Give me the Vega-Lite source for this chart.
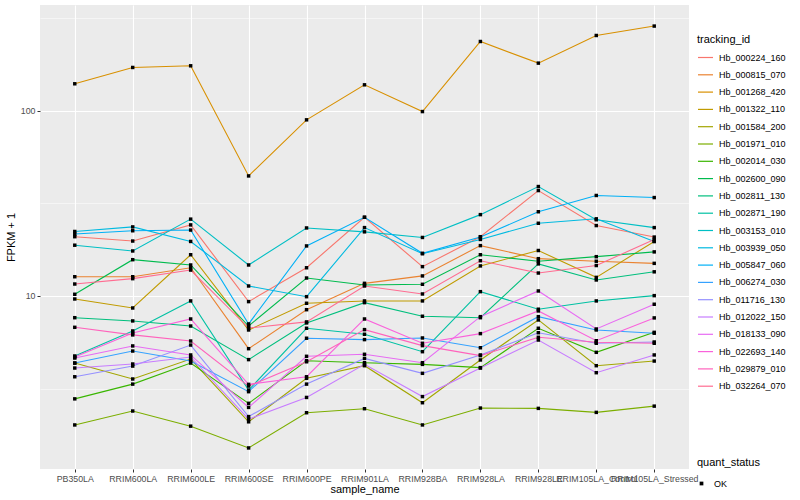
{
 "$schema": "https://vega.github.io/schema/vega-lite/v6.json",
 "width": 649,
 "height": 464,
 "autosize": {"type": "none"},
 "padding": {"left": 40, "top": 5, "right": 111, "bottom": 31},
 "background": "white",
 "config": {
  "view": {"fill": "#EBEBEB", "stroke": null},
  "font": "Liberation Sans",
  "legend": {"padding": 0, "titleFontWeight": "normal", "titleColor": "black", "labelColor": "black", "titleFontSize": 11, "labelFontSize": 9}
 },
 "data": {"values": [
  {"tracking_id":"Hb_000224_160","sample_name":"PB350LA","fpkm":20.9,"quant_status":"OK"},
  {"tracking_id":"Hb_000224_160","sample_name":"RRIM600LA","fpkm":19.8,"quant_status":"OK"},
  {"tracking_id":"Hb_000224_160","sample_name":"RRIM600LE","fpkm":24.2,"quant_status":"OK"},
  {"tracking_id":"Hb_000224_160","sample_name":"RRIM600SE","fpkm":9.32,"quant_status":"OK"},
  {"tracking_id":"Hb_000224_160","sample_name":"RRIM600PE","fpkm":14.2,"quant_status":"OK"},
  {"tracking_id":"Hb_000224_160","sample_name":"RRIM901LA","fpkm":26.6,"quant_status":"OK"},
  {"tracking_id":"Hb_000224_160","sample_name":"RRIM928BA","fpkm":14.4,"quant_status":"OK"},
  {"tracking_id":"Hb_000224_160","sample_name":"RRIM928LA","fpkm":20.9,"quant_status":"OK"},
  {"tracking_id":"Hb_000224_160","sample_name":"RRIM928LE","fpkm":37.1,"quant_status":"OK"},
  {"tracking_id":"Hb_000224_160","sample_name":"RRIM105LA_Control","fpkm":24.0,"quant_status":"OK"},
  {"tracking_id":"Hb_000224_160","sample_name":"RRIM105LA_Stressed","fpkm":20.8,"quant_status":"OK"},
  {"tracking_id":"Hb_000815_070","sample_name":"PB350LA","fpkm":12.7,"quant_status":"OK"},
  {"tracking_id":"Hb_000815_070","sample_name":"RRIM600LA","fpkm":12.7,"quant_status":"OK"},
  {"tracking_id":"Hb_000815_070","sample_name":"RRIM600LE","fpkm":14.2,"quant_status":"OK"},
  {"tracking_id":"Hb_000815_070","sample_name":"RRIM600SE","fpkm":5.19,"quant_status":"OK"},
  {"tracking_id":"Hb_000815_070","sample_name":"RRIM600PE","fpkm":8.43,"quant_status":"OK"},
  {"tracking_id":"Hb_000815_070","sample_name":"RRIM901LA","fpkm":11.7,"quant_status":"OK"},
  {"tracking_id":"Hb_000815_070","sample_name":"RRIM928BA","fpkm":12.83,"quant_status":"OK"},
  {"tracking_id":"Hb_000815_070","sample_name":"RRIM928LA","fpkm":18.7,"quant_status":"OK"},
  {"tracking_id":"Hb_000815_070","sample_name":"RRIM928LE","fpkm":15.9,"quant_status":"OK"},
  {"tracking_id":"Hb_000815_070","sample_name":"RRIM105LA_Control","fpkm":15.4,"quant_status":"OK"},
  {"tracking_id":"Hb_000815_070","sample_name":"RRIM105LA_Stressed","fpkm":15.0,"quant_status":"OK"},
  {"tracking_id":"Hb_001268_420","sample_name":"PB350LA","fpkm":140,"quant_status":"OK"},
  {"tracking_id":"Hb_001268_420","sample_name":"RRIM600LA","fpkm":171.5,"quant_status":"OK"},
  {"tracking_id":"Hb_001268_420","sample_name":"RRIM600LE","fpkm":175.1,"quant_status":"OK"},
  {"tracking_id":"Hb_001268_420","sample_name":"RRIM600SE","fpkm":44.5,"quant_status":"OK"},
  {"tracking_id":"Hb_001268_420","sample_name":"RRIM600PE","fpkm":89.4,"quant_status":"OK"},
  {"tracking_id":"Hb_001268_420","sample_name":"RRIM901LA","fpkm":138.2,"quant_status":"OK"},
  {"tracking_id":"Hb_001268_420","sample_name":"RRIM928BA","fpkm":99.1,"quant_status":"OK"},
  {"tracking_id":"Hb_001268_420","sample_name":"RRIM928LA","fpkm":236.9,"quant_status":"OK"},
  {"tracking_id":"Hb_001268_420","sample_name":"RRIM928LE","fpkm":181.0,"quant_status":"OK"},
  {"tracking_id":"Hb_001268_420","sample_name":"RRIM105LA_Control","fpkm":255.3,"quant_status":"OK"},
  {"tracking_id":"Hb_001268_420","sample_name":"RRIM105LA_Stressed","fpkm":287.0,"quant_status":"OK"},
  {"tracking_id":"Hb_001322_110","sample_name":"PB350LA","fpkm":9.63,"quant_status":"OK"},
  {"tracking_id":"Hb_001322_110","sample_name":"RRIM600LA","fpkm":8.61,"quant_status":"OK"},
  {"tracking_id":"Hb_001322_110","sample_name":"RRIM600LE","fpkm":16.7,"quant_status":"OK"},
  {"tracking_id":"Hb_001322_110","sample_name":"RRIM600SE","fpkm":6.55,"quant_status":"OK"},
  {"tracking_id":"Hb_001322_110","sample_name":"RRIM600PE","fpkm":9.13,"quant_status":"OK"},
  {"tracking_id":"Hb_001322_110","sample_name":"RRIM901LA","fpkm":9.40,"quant_status":"OK"},
  {"tracking_id":"Hb_001322_110","sample_name":"RRIM928BA","fpkm":9.40,"quant_status":"OK"},
  {"tracking_id":"Hb_001322_110","sample_name":"RRIM928LA","fpkm":14.53,"quant_status":"OK"},
  {"tracking_id":"Hb_001322_110","sample_name":"RRIM928LE","fpkm":17.6,"quant_status":"OK"},
  {"tracking_id":"Hb_001322_110","sample_name":"RRIM105LA_Control","fpkm":12.6,"quant_status":"OK"},
  {"tracking_id":"Hb_001322_110","sample_name":"RRIM105LA_Stressed","fpkm":19.7,"quant_status":"OK"},
  {"tracking_id":"Hb_001584_200","sample_name":"PB350LA","fpkm":4.34,"quant_status":"OK"},
  {"tracking_id":"Hb_001584_200","sample_name":"RRIM600LA","fpkm":3.56,"quant_status":"OK"},
  {"tracking_id":"Hb_001584_200","sample_name":"RRIM600LE","fpkm":4.56,"quant_status":"OK"},
  {"tracking_id":"Hb_001584_200","sample_name":"RRIM600SE","fpkm":2.09,"quant_status":"OK"},
  {"tracking_id":"Hb_001584_200","sample_name":"RRIM600PE","fpkm":3.59,"quant_status":"OK"},
  {"tracking_id":"Hb_001584_200","sample_name":"RRIM901LA","fpkm":4.20,"quant_status":"OK"},
  {"tracking_id":"Hb_001584_200","sample_name":"RRIM928BA","fpkm":2.65,"quant_status":"OK"},
  {"tracking_id":"Hb_001584_200","sample_name":"RRIM928LA","fpkm":4.51,"quant_status":"OK"},
  {"tracking_id":"Hb_001584_200","sample_name":"RRIM928LE","fpkm":7.42,"quant_status":"OK"},
  {"tracking_id":"Hb_001584_200","sample_name":"RRIM105LA_Control","fpkm":4.20,"quant_status":"OK"},
  {"tracking_id":"Hb_001584_200","sample_name":"RRIM105LA_Stressed","fpkm":4.45,"quant_status":"OK"},
  {"tracking_id":"Hb_001971_010","sample_name":"PB350LA","fpkm":2.01,"quant_status":"OK"},
  {"tracking_id":"Hb_001971_010","sample_name":"RRIM600LA","fpkm":2.39,"quant_status":"OK"},
  {"tracking_id":"Hb_001971_010","sample_name":"RRIM600LE","fpkm":1.98,"quant_status":"OK"},
  {"tracking_id":"Hb_001971_010","sample_name":"RRIM600SE","fpkm":1.51,"quant_status":"OK"},
  {"tracking_id":"Hb_001971_010","sample_name":"RRIM600PE","fpkm":2.34,"quant_status":"OK"},
  {"tracking_id":"Hb_001971_010","sample_name":"RRIM901LA","fpkm":2.46,"quant_status":"OK"},
  {"tracking_id":"Hb_001971_010","sample_name":"RRIM928BA","fpkm":2.01,"quant_status":"OK"},
  {"tracking_id":"Hb_001971_010","sample_name":"RRIM928LA","fpkm":2.48,"quant_status":"OK"},
  {"tracking_id":"Hb_001971_010","sample_name":"RRIM928LE","fpkm":2.47,"quant_status":"OK"},
  {"tracking_id":"Hb_001971_010","sample_name":"RRIM105LA_Control","fpkm":2.35,"quant_status":"OK"},
  {"tracking_id":"Hb_001971_010","sample_name":"RRIM105LA_Stressed","fpkm":2.54,"quant_status":"OK"},
  {"tracking_id":"Hb_002014_030","sample_name":"PB350LA","fpkm":2.78,"quant_status":"OK"},
  {"tracking_id":"Hb_002014_030","sample_name":"RRIM600LA","fpkm":3.34,"quant_status":"OK"},
  {"tracking_id":"Hb_002014_030","sample_name":"RRIM600LE","fpkm":4.34,"quant_status":"OK"},
  {"tracking_id":"Hb_002014_030","sample_name":"RRIM600SE","fpkm":2.63,"quant_status":"OK"},
  {"tracking_id":"Hb_002014_030","sample_name":"RRIM600PE","fpkm":4.47,"quant_status":"OK"},
  {"tracking_id":"Hb_002014_030","sample_name":"RRIM901LA","fpkm":4.36,"quant_status":"OK"},
  {"tracking_id":"Hb_002014_030","sample_name":"RRIM928BA","fpkm":4.27,"quant_status":"OK"},
  {"tracking_id":"Hb_002014_030","sample_name":"RRIM928LA","fpkm":4.10,"quant_status":"OK"},
  {"tracking_id":"Hb_002014_030","sample_name":"RRIM928LE","fpkm":6.69,"quant_status":"OK"},
  {"tracking_id":"Hb_002014_030","sample_name":"RRIM105LA_Control","fpkm":4.96,"quant_status":"OK"},
  {"tracking_id":"Hb_002014_030","sample_name":"RRIM105LA_Stressed","fpkm":6.36,"quant_status":"OK"},
  {"tracking_id":"Hb_002600_090","sample_name":"PB350LA","fpkm":10.21,"quant_status":"OK"},
  {"tracking_id":"Hb_002600_090","sample_name":"RRIM600LA","fpkm":15.7,"quant_status":"OK"},
  {"tracking_id":"Hb_002600_090","sample_name":"RRIM600LE","fpkm":14.7,"quant_status":"OK"},
  {"tracking_id":"Hb_002600_090","sample_name":"RRIM600SE","fpkm":6.88,"quant_status":"OK"},
  {"tracking_id":"Hb_002600_090","sample_name":"RRIM600PE","fpkm":12.5,"quant_status":"OK"},
  {"tracking_id":"Hb_002600_090","sample_name":"RRIM901LA","fpkm":11.46,"quant_status":"OK"},
  {"tracking_id":"Hb_002600_090","sample_name":"RRIM928BA","fpkm":11.56,"quant_status":"OK"},
  {"tracking_id":"Hb_002600_090","sample_name":"RRIM928LA","fpkm":16.7,"quant_status":"OK"},
  {"tracking_id":"Hb_002600_090","sample_name":"RRIM928LE","fpkm":15.4,"quant_status":"OK"},
  {"tracking_id":"Hb_002600_090","sample_name":"RRIM105LA_Control","fpkm":16.3,"quant_status":"OK"},
  {"tracking_id":"Hb_002600_090","sample_name":"RRIM105LA_Stressed","fpkm":17.3,"quant_status":"OK"},
  {"tracking_id":"Hb_002811_130","sample_name":"PB350LA","fpkm":7.63,"quant_status":"OK"},
  {"tracking_id":"Hb_002811_130","sample_name":"RRIM600LA","fpkm":7.33,"quant_status":"OK"},
  {"tracking_id":"Hb_002811_130","sample_name":"RRIM600LE","fpkm":6.88,"quant_status":"OK"},
  {"tracking_id":"Hb_002811_130","sample_name":"RRIM600SE","fpkm":4.53,"quant_status":"OK"},
  {"tracking_id":"Hb_002811_130","sample_name":"RRIM600PE","fpkm":7.15,"quant_status":"OK"},
  {"tracking_id":"Hb_002811_130","sample_name":"RRIM901LA","fpkm":9.20,"quant_status":"OK"},
  {"tracking_id":"Hb_002811_130","sample_name":"RRIM928BA","fpkm":7.77,"quant_status":"OK"},
  {"tracking_id":"Hb_002811_130","sample_name":"RRIM928LA","fpkm":7.63,"quant_status":"OK"},
  {"tracking_id":"Hb_002811_130","sample_name":"RRIM928LE","fpkm":14.9,"quant_status":"OK"},
  {"tracking_id":"Hb_002811_130","sample_name":"RRIM105LA_Control","fpkm":12.2,"quant_status":"OK"},
  {"tracking_id":"Hb_002811_130","sample_name":"RRIM105LA_Stressed","fpkm":13.5,"quant_status":"OK"},
  {"tracking_id":"Hb_002871_190","sample_name":"PB350LA","fpkm":4.74,"quant_status":"OK"},
  {"tracking_id":"Hb_002871_190","sample_name":"RRIM600LA","fpkm":6.47,"quant_status":"OK"},
  {"tracking_id":"Hb_002871_190","sample_name":"RRIM600LE","fpkm":9.40,"quant_status":"OK"},
  {"tracking_id":"Hb_002871_190","sample_name":"RRIM600SE","fpkm":3.10,"quant_status":"OK"},
  {"tracking_id":"Hb_002871_190","sample_name":"RRIM600PE","fpkm":6.69,"quant_status":"OK"},
  {"tracking_id":"Hb_002871_190","sample_name":"RRIM901LA","fpkm":6.21,"quant_status":"OK"},
  {"tracking_id":"Hb_002871_190","sample_name":"RRIM928BA","fpkm":5.00,"quant_status":"OK"},
  {"tracking_id":"Hb_002871_190","sample_name":"RRIM928LA","fpkm":10.55,"quant_status":"OK"},
  {"tracking_id":"Hb_002871_190","sample_name":"RRIM928LE","fpkm":8.48,"quant_status":"OK"},
  {"tracking_id":"Hb_002871_190","sample_name":"RRIM105LA_Control","fpkm":9.40,"quant_status":"OK"},
  {"tracking_id":"Hb_002871_190","sample_name":"RRIM105LA_Stressed","fpkm":10.04,"quant_status":"OK"},
  {"tracking_id":"Hb_003153_010","sample_name":"PB350LA","fpkm":18.8,"quant_status":"OK"},
  {"tracking_id":"Hb_003153_010","sample_name":"RRIM600LA","fpkm":17.5,"quant_status":"OK"},
  {"tracking_id":"Hb_003153_010","sample_name":"RRIM600LE","fpkm":26.0,"quant_status":"OK"},
  {"tracking_id":"Hb_003153_010","sample_name":"RRIM600SE","fpkm":14.7,"quant_status":"OK"},
  {"tracking_id":"Hb_003153_010","sample_name":"RRIM600PE","fpkm":23.3,"quant_status":"OK"},
  {"tracking_id":"Hb_003153_010","sample_name":"RRIM901LA","fpkm":22.2,"quant_status":"OK"},
  {"tracking_id":"Hb_003153_010","sample_name":"RRIM928BA","fpkm":20.7,"quant_status":"OK"},
  {"tracking_id":"Hb_003153_010","sample_name":"RRIM928LA","fpkm":27.5,"quant_status":"OK"},
  {"tracking_id":"Hb_003153_010","sample_name":"RRIM928LE","fpkm":39.0,"quant_status":"OK"},
  {"tracking_id":"Hb_003153_010","sample_name":"RRIM105LA_Control","fpkm":25.8,"quant_status":"OK"},
  {"tracking_id":"Hb_003153_010","sample_name":"RRIM105LA_Stressed","fpkm":23.4,"quant_status":"OK"},
  {"tracking_id":"Hb_003939_050","sample_name":"PB350LA","fpkm":22.3,"quant_status":"OK"},
  {"tracking_id":"Hb_003939_050","sample_name":"RRIM600LA","fpkm":23.6,"quant_status":"OK"},
  {"tracking_id":"Hb_003939_050","sample_name":"RRIM600LE","fpkm":19.7,"quant_status":"OK"},
  {"tracking_id":"Hb_003939_050","sample_name":"RRIM600SE","fpkm":11.32,"quant_status":"OK"},
  {"tracking_id":"Hb_003939_050","sample_name":"RRIM600PE","fpkm":9.91,"quant_status":"OK"},
  {"tracking_id":"Hb_003939_050","sample_name":"RRIM901LA","fpkm":23.4,"quant_status":"OK"},
  {"tracking_id":"Hb_003939_050","sample_name":"RRIM928BA","fpkm":16.9,"quant_status":"OK"},
  {"tracking_id":"Hb_003939_050","sample_name":"RRIM928LA","fpkm":20.2,"quant_status":"OK"},
  {"tracking_id":"Hb_003939_050","sample_name":"RRIM928LE","fpkm":24.7,"quant_status":"OK"},
  {"tracking_id":"Hb_003939_050","sample_name":"RRIM105LA_Control","fpkm":26.1,"quant_status":"OK"},
  {"tracking_id":"Hb_003939_050","sample_name":"RRIM105LA_Stressed","fpkm":19.7,"quant_status":"OK"},
  {"tracking_id":"Hb_005847_060","sample_name":"PB350LA","fpkm":21.6,"quant_status":"OK"},
  {"tracking_id":"Hb_005847_060","sample_name":"RRIM600LA","fpkm":22.5,"quant_status":"OK"},
  {"tracking_id":"Hb_005847_060","sample_name":"RRIM600LE","fpkm":22.7,"quant_status":"OK"},
  {"tracking_id":"Hb_005847_060","sample_name":"RRIM600SE","fpkm":7.06,"quant_status":"OK"},
  {"tracking_id":"Hb_005847_060","sample_name":"RRIM600PE","fpkm":18.63,"quant_status":"OK"},
  {"tracking_id":"Hb_005847_060","sample_name":"RRIM901LA","fpkm":26.6,"quant_status":"OK"},
  {"tracking_id":"Hb_005847_060","sample_name":"RRIM928BA","fpkm":17.0,"quant_status":"OK"},
  {"tracking_id":"Hb_005847_060","sample_name":"RRIM928LA","fpkm":20.8,"quant_status":"OK"},
  {"tracking_id":"Hb_005847_060","sample_name":"RRIM928LE","fpkm":28.5,"quant_status":"OK"},
  {"tracking_id":"Hb_005847_060","sample_name":"RRIM105LA_Control","fpkm":34.9,"quant_status":"OK"},
  {"tracking_id":"Hb_005847_060","sample_name":"RRIM105LA_Stressed","fpkm":34.0,"quant_status":"OK"},
  {"tracking_id":"Hb_006274_030","sample_name":"PB350LA","fpkm":4.34,"quant_status":"OK"},
  {"tracking_id":"Hb_006274_030","sample_name":"RRIM600LA","fpkm":5.04,"quant_status":"OK"},
  {"tracking_id":"Hb_006274_030","sample_name":"RRIM600LE","fpkm":4.45,"quant_status":"OK"},
  {"tracking_id":"Hb_006274_030","sample_name":"RRIM600SE","fpkm":3.04,"quant_status":"OK"},
  {"tracking_id":"Hb_006274_030","sample_name":"RRIM600PE","fpkm":5.91,"quant_status":"OK"},
  {"tracking_id":"Hb_006274_030","sample_name":"RRIM901LA","fpkm":5.81,"quant_status":"OK"},
  {"tracking_id":"Hb_006274_030","sample_name":"RRIM928BA","fpkm":5.93,"quant_status":"OK"},
  {"tracking_id":"Hb_006274_030","sample_name":"RRIM928LA","fpkm":5.25,"quant_status":"OK"},
  {"tracking_id":"Hb_006274_030","sample_name":"RRIM928LE","fpkm":7.73,"quant_status":"OK"},
  {"tracking_id":"Hb_006274_030","sample_name":"RRIM105LA_Control","fpkm":6.55,"quant_status":"OK"},
  {"tracking_id":"Hb_006274_030","sample_name":"RRIM105LA_Stressed","fpkm":6.29,"quant_status":"OK"},
  {"tracking_id":"Hb_011716_130","sample_name":"PB350LA","fpkm":3.66,"quant_status":"OK"},
  {"tracking_id":"Hb_011716_130","sample_name":"RRIM600LA","fpkm":4.18,"quant_status":"OK"},
  {"tracking_id":"Hb_011716_130","sample_name":"RRIM600LE","fpkm":5.43,"quant_status":"OK"},
  {"tracking_id":"Hb_011716_130","sample_name":"RRIM600SE","fpkm":2.23,"quant_status":"OK"},
  {"tracking_id":"Hb_011716_130","sample_name":"RRIM600PE","fpkm":3.34,"quant_status":"OK"},
  {"tracking_id":"Hb_011716_130","sample_name":"RRIM901LA","fpkm":4.60,"quant_status":"OK"},
  {"tracking_id":"Hb_011716_130","sample_name":"RRIM928BA","fpkm":3.82,"quant_status":"OK"},
  {"tracking_id":"Hb_011716_130","sample_name":"RRIM928LA","fpkm":4.80,"quant_status":"OK"},
  {"tracking_id":"Hb_011716_130","sample_name":"RRIM928LE","fpkm":6.33,"quant_status":"OK"},
  {"tracking_id":"Hb_011716_130","sample_name":"RRIM105LA_Control","fpkm":5.55,"quant_status":"OK"},
  {"tracking_id":"Hb_011716_130","sample_name":"RRIM105LA_Stressed","fpkm":5.64,"quant_status":"OK"},
  {"tracking_id":"Hb_012022_150","sample_name":"PB350LA","fpkm":4.08,"quant_status":"OK"},
  {"tracking_id":"Hb_012022_150","sample_name":"RRIM600LA","fpkm":4.29,"quant_status":"OK"},
  {"tracking_id":"Hb_012022_150","sample_name":"RRIM600LE","fpkm":4.68,"quant_status":"OK"},
  {"tracking_id":"Hb_012022_150","sample_name":"RRIM600SE","fpkm":2.16,"quant_status":"OK"},
  {"tracking_id":"Hb_012022_150","sample_name":"RRIM600PE","fpkm":2.83,"quant_status":"OK"},
  {"tracking_id":"Hb_012022_150","sample_name":"RRIM901LA","fpkm":4.27,"quant_status":"OK"},
  {"tracking_id":"Hb_012022_150","sample_name":"RRIM928BA","fpkm":2.86,"quant_status":"OK"},
  {"tracking_id":"Hb_012022_150","sample_name":"RRIM928LA","fpkm":4.08,"quant_status":"OK"},
  {"tracking_id":"Hb_012022_150","sample_name":"RRIM928LE","fpkm":5.78,"quant_status":"OK"},
  {"tracking_id":"Hb_012022_150","sample_name":"RRIM105LA_Control","fpkm":3.85,"quant_status":"OK"},
  {"tracking_id":"Hb_012022_150","sample_name":"RRIM105LA_Stressed","fpkm":4.80,"quant_status":"OK"},
  {"tracking_id":"Hb_018133_090","sample_name":"PB350LA","fpkm":4.62,"quant_status":"OK"},
  {"tracking_id":"Hb_018133_090","sample_name":"RRIM600LA","fpkm":5.37,"quant_status":"OK"},
  {"tracking_id":"Hb_018133_090","sample_name":"RRIM600LE","fpkm":4.80,"quant_status":"OK"},
  {"tracking_id":"Hb_018133_090","sample_name":"RRIM600SE","fpkm":2.50,"quant_status":"OK"},
  {"tracking_id":"Hb_018133_090","sample_name":"RRIM600PE","fpkm":4.72,"quant_status":"OK"},
  {"tracking_id":"Hb_018133_090","sample_name":"RRIM901LA","fpkm":4.84,"quant_status":"OK"},
  {"tracking_id":"Hb_018133_090","sample_name":"RRIM928BA","fpkm":4.36,"quant_status":"OK"},
  {"tracking_id":"Hb_018133_090","sample_name":"RRIM928LA","fpkm":7.73,"quant_status":"OK"},
  {"tracking_id":"Hb_018133_090","sample_name":"RRIM928LE","fpkm":10.64,"quant_status":"OK"},
  {"tracking_id":"Hb_018133_090","sample_name":"RRIM105LA_Control","fpkm":6.63,"quant_status":"OK"},
  {"tracking_id":"Hb_018133_090","sample_name":"RRIM105LA_Stressed","fpkm":9.02,"quant_status":"OK"},
  {"tracking_id":"Hb_022693_140","sample_name":"PB350LA","fpkm":4.68,"quant_status":"OK"},
  {"tracking_id":"Hb_022693_140","sample_name":"RRIM600LA","fpkm":6.31,"quant_status":"OK"},
  {"tracking_id":"Hb_022693_140","sample_name":"RRIM600LE","fpkm":7.51,"quant_status":"OK"},
  {"tracking_id":"Hb_022693_140","sample_name":"RRIM600SE","fpkm":3.33,"quant_status":"OK"},
  {"tracking_id":"Hb_022693_140","sample_name":"RRIM600PE","fpkm":3.66,"quant_status":"OK"},
  {"tracking_id":"Hb_022693_140","sample_name":"RRIM901LA","fpkm":7.51,"quant_status":"OK"},
  {"tracking_id":"Hb_022693_140","sample_name":"RRIM928BA","fpkm":5.55,"quant_status":"OK"},
  {"tracking_id":"Hb_022693_140","sample_name":"RRIM928LA","fpkm":6.26,"quant_status":"OK"},
  {"tracking_id":"Hb_022693_140","sample_name":"RRIM928LE","fpkm":8.30,"quant_status":"OK"},
  {"tracking_id":"Hb_022693_140","sample_name":"RRIM105LA_Control","fpkm":5.73,"quant_status":"OK"},
  {"tracking_id":"Hb_022693_140","sample_name":"RRIM105LA_Stressed","fpkm":7.61,"quant_status":"OK"},
  {"tracking_id":"Hb_029879_010","sample_name":"PB350LA","fpkm":6.77,"quant_status":"OK"},
  {"tracking_id":"Hb_029879_010","sample_name":"RRIM600LA","fpkm":6.16,"quant_status":"OK"},
  {"tracking_id":"Hb_029879_010","sample_name":"RRIM600LE","fpkm":5.71,"quant_status":"OK"},
  {"tracking_id":"Hb_029879_010","sample_name":"RRIM600SE","fpkm":3.26,"quant_status":"OK"},
  {"tracking_id":"Hb_029879_010","sample_name":"RRIM600PE","fpkm":4.41,"quant_status":"OK"},
  {"tracking_id":"Hb_029879_010","sample_name":"RRIM901LA","fpkm":6.58,"quant_status":"OK"},
  {"tracking_id":"Hb_029879_010","sample_name":"RRIM928BA","fpkm":5.39,"quant_status":"OK"},
  {"tracking_id":"Hb_029879_010","sample_name":"RRIM928LA","fpkm":4.76,"quant_status":"OK"},
  {"tracking_id":"Hb_029879_010","sample_name":"RRIM928LE","fpkm":5.98,"quant_status":"OK"},
  {"tracking_id":"Hb_029879_010","sample_name":"RRIM105LA_Control","fpkm":5.62,"quant_status":"OK"},
  {"tracking_id":"Hb_029879_010","sample_name":"RRIM105LA_Stressed","fpkm":5.55,"quant_status":"OK"},
  {"tracking_id":"Hb_032264_070","sample_name":"PB350LA","fpkm":11.6,"quant_status":"OK"},
  {"tracking_id":"Hb_032264_070","sample_name":"RRIM600LA","fpkm":12.4,"quant_status":"OK"},
  {"tracking_id":"Hb_032264_070","sample_name":"RRIM600LE","fpkm":13.8,"quant_status":"OK"},
  {"tracking_id":"Hb_032264_070","sample_name":"RRIM600SE","fpkm":6.71,"quant_status":"OK"},
  {"tracking_id":"Hb_032264_070","sample_name":"RRIM600PE","fpkm":7.24,"quant_status":"OK"},
  {"tracking_id":"Hb_032264_070","sample_name":"RRIM901LA","fpkm":11.32,"quant_status":"OK"},
  {"tracking_id":"Hb_032264_070","sample_name":"RRIM928BA","fpkm":10.25,"quant_status":"OK"},
  {"tracking_id":"Hb_032264_070","sample_name":"RRIM928LA","fpkm":15.5,"quant_status":"OK"},
  {"tracking_id":"Hb_032264_070","sample_name":"RRIM928LE","fpkm":13.3,"quant_status":"OK"},
  {"tracking_id":"Hb_032264_070","sample_name":"RRIM105LA_Control","fpkm":14.6,"quant_status":"OK"},
  {"tracking_id":"Hb_032264_070","sample_name":"RRIM105LA_Stressed","fpkm":20.2,"quant_status":"OK"}
 ]},
 "encoding": {
  "x": {
   "field": "sample_name", "type": "nominal",
   "sort": ["PB350LA","RRIM600LA","RRIM600LE","RRIM600SE","RRIM600PE","RRIM901LA","RRIM928BA","RRIM928LA","RRIM928LE","RRIM105LA_Control","RRIM105LA_Stressed"],
   "scale": {"type": "point", "padding": 0.6},
   "axis": {"title": "sample_name", "labelAngle": 0, "domain": false, "grid": true, "gridColor": "white", "gridWidth": 1.1, "tickColor": "#333333", "tickSize": 3, "labelColor": "#4D4D4D", "labelFontSize": 8.8, "labelPadding": 2, "titleFontSize": 11, "titleFontWeight": "normal", "titleColor": "black", "titlePadding": 1, "labelOverlap": false}
  },
  "y": {
   "field": "fpkm", "type": "quantitative",
   "scale": {"type": "log", "domain": [1.162, 373], "nice": false, "zero": false},
   "axis": {"title": "FPKM + 1", "values": [3.16228, 10, 31.6228, 100, 316.228],
    "labelExpr": "(datum.value == 10 || datum.value == 100) ? format(datum.value, 'd') : ''",
    "domain": false, "grid": true, "gridColor": "white",
    "gridWidth": {"condition": {"test": "datum.value == 10 || datum.value == 100", "value": 1.1}, "value": 0.5},
    "tickOpacity": {"condition": {"test": "datum.value == 10 || datum.value == 100", "value": 1}, "value": 0},
    "tickColor": "#333333", "tickSize": 3, "labelColor": "#4D4D4D", "labelFontSize": 8.8, "labelPadding": 2,
    "titleFontSize": 11, "titleFontWeight": "normal", "titleColor": "black", "titlePadding": 4, "labelOverlap": false}
  }
 },
 "layer": [
  {
   "mark": {"type": "line", "strokeWidth": 1.1},
   "encoding": {
    "color": {"field": "tracking_id", "type": "nominal",
     "scale": {"domain": ["Hb_000224_160","Hb_000815_070","Hb_001268_420","Hb_001322_110","Hb_001584_200","Hb_001971_010","Hb_002014_030","Hb_002600_090","Hb_002811_130","Hb_002871_190","Hb_003153_010","Hb_003939_050","Hb_005847_060","Hb_006274_030","Hb_011716_130","Hb_012022_150","Hb_018133_090","Hb_022693_140","Hb_029879_010","Hb_032264_070"],
      "range": ["#F8766D","#EA8331","#D89000","#C09B00","#A3A500","#7CAE00","#39B600","#00BB4E","#00BF7D","#00C1A3","#00BFC4","#00BAE0","#00B0F6","#35A2FF","#9590FF","#C77CFF","#E76BF3","#FA62DB","#FF62BC","#FF6C91"]},
     "legend": {"title": "tracking_id", "orient": "none", "legendX": 657, "legendY": 29, "symbolType": "stroke", "symbolSize": 225, "symbolStrokeWidth": 1.2, "rowPadding": 3.3, "labelOffset": 5, "titlePadding": 4}
    }
   }
  },
  {
   "mark": {"type": "point", "filled": true, "size": 12, "color": "black", "opacity": 1},
   "encoding": {
    "shape": {"field": "quant_status", "type": "nominal", "scale": {"range": ["square"]},
     "legend": {"title": "quant_status", "orient": "none", "legendX": 657, "legendY": 452, "symbolSize": 14, "symbolFillColor": "black", "symbolStrokeColor": "black", "symbolOffset": 0, "labelOffset": 8, "titlePadding": 11}
    }
   }
  }
 ]
}
